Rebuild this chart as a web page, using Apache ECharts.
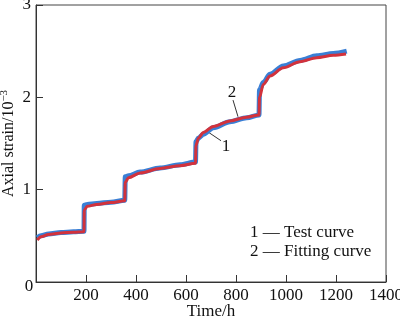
<!DOCTYPE html>
<html><head><meta charset="utf-8">
<script src="https://cdn.jsdelivr.net/npm/echarts@6/dist/echarts.min.js"></script>
<style>html,body{margin:0;padding:0;background:#fff}#c{width:400px;height:322px}</style>
</head><body><div id="c"></div>
<script>
// Time (h) and axial strain (10^-3)
const timeTest = [5,20,50,100,150,192, 193,205,243,300,355, 357,370,416,496,576,638, 640,650,669,709,776,843,892, 894,909,936,989,1056,1123,1189,1243];
const strainTest = [0.48,0.50,0.52,0.535,0.545,0.55, 0.83,0.84,0.85,0.865,0.885, 1.14,1.15,1.19,1.235,1.27,1.30, 1.52,1.56,1.60,1.67,1.735,1.78,1.81, 2.08,2.16,2.25,2.34,2.40,2.45,2.475,2.50];
const timeFit = [5,20,50,100,150,192, 193,205,243,300,355, 357,370,416,496,576,638, 640,650,669,709,776,843,892, 894,909,936,989,1056,1123,1189,1240];
const strainFit = [0.455,0.49,0.515,0.53,0.54,0.545, 0.78,0.82,0.84,0.86,0.88, 1.08,1.13,1.18,1.23,1.26,1.285, 1.48,1.56,1.62,1.685,1.745,1.785,1.81, 2.0,2.14,2.23,2.32,2.385,2.43,2.455,2.47];
const xTicks = [0,200,400,600,800,1000,1200,1400];
const yTicks = [0,1,2,3];
const seriesNames = ['Test curve','Fitting curve'];

const font = '"Liberation Serif","Times New Roman",serif';
const FS = 17;
const pairs = (a,b)=>a.map((v,i)=>[v,b[i]]);
const chart = echarts.init(document.getElementById('c'));
chart.setOption({
  animation:false,
  grid:{left:36,right:14,top:5,bottom:40,show:true,borderColor:'#444',borderWidth:1,
    containLabel:false,outerBoundsMode:'none'},
  xAxis:{type:'value',min:0,max:1400,interval:200,
    name:'Time/h',nameLocation:'middle',nameGap:21,nameMoveOverlap:false,
    nameTextStyle:{fontFamily:font,fontSize:FS,color:'#111',verticalAlign:'top'},
    axisLine:{lineStyle:{color:'#333',width:1}},
    axisTick:{inside:true,length:7,lineStyle:{color:'#333'}},
    axisLabel:{fontFamily:font,fontSize:FS,color:'#111',margin:5,hideOverlap:false,
      formatter:v=>v===0?'':String(v), showMaxLabel:true},
    splitLine:{show:false}},
  yAxis:{type:'value',min:0,max:3,interval:1,
    name:'Axial strain/10{s|−3}',nameLocation:'middle',nameGap:18,nameRotate:90,nameMoveOverlap:false,
    nameTextStyle:{fontFamily:font,fontSize:16,color:'#111',
      rich:{s:{fontFamily:font,fontSize:11,color:'#111',verticalAlign:'bottom',padding:[0,0,8,0]}}},
    axisLine:{lineStyle:{color:'#333',width:1}},
    axisTick:{inside:true,length:7,lineStyle:{color:'#333'}},
    axisLabel:{fontFamily:font,fontSize:FS,color:'#111',margin:5,hideOverlap:false,
      formatter:v=>v===0?'':String(v)},
    splitLine:{show:false}},
  series:[
    {name:seriesNames[0],type:'line',data:pairs(timeTest,strainTest),
     smooth:0.3,smoothMonotone:'x',showSymbol:false,
     lineStyle:{color:'#3a7fd5',width:5},z:2},
    {name:seriesNames[1],type:'line',data:pairs(timeFit,strainFit),
     smooth:0.3,smoothMonotone:'x',showSymbol:false,
     lineStyle:{color:'#d2323c',width:3},z:3}
  ]
});

const P = (t,v)=>chart.convertToPixel({gridIndex:0},[t,v]);
const a2t = P(784,2.05), a2a = P(788,1.97), a2b = P(808,1.79);
const a1t = P(760,1.47), a1a = P(740,1.53), a1b = P(688,1.625);
const o = P(0,0);
chart.setOption({graphic:[
  {type:'text',x:a2t[0],y:a2t[1],style:{text:'2',font:FS+'px '+font,fill:'#111',align:'center',verticalAlign:'middle'}},
  {type:'line',shape:{x1:a2a[0],y1:a2a[1],x2:a2b[0],y2:a2b[1]},style:{stroke:'#333',lineWidth:1}},
  {type:'text',x:a1t[0],y:a1t[1],style:{text:'1',font:FS+'px '+font,fill:'#111',align:'center',verticalAlign:'middle'}},
  {type:'line',shape:{x1:a1a[0],y1:a1a[1],x2:a1b[0],y2:a1b[1]},style:{stroke:'#333',lineWidth:1}},
  {type:'text',x:o[0]-7,y:o[1]+5,style:{text:'0',font:FS+'px '+font,fill:'#111',align:'center',verticalAlign:'middle'}},
  {type:'text',x:250,y:233,style:{text:'1 — '+seriesNames[0],font:FS+'px '+font,fill:'#111',verticalAlign:'middle'}},
  {type:'text',x:250,y:252,style:{text:'2 — '+seriesNames[1],font:FS+'px '+font,fill:'#111',verticalAlign:'middle'}}
]});
</script></body></html>
